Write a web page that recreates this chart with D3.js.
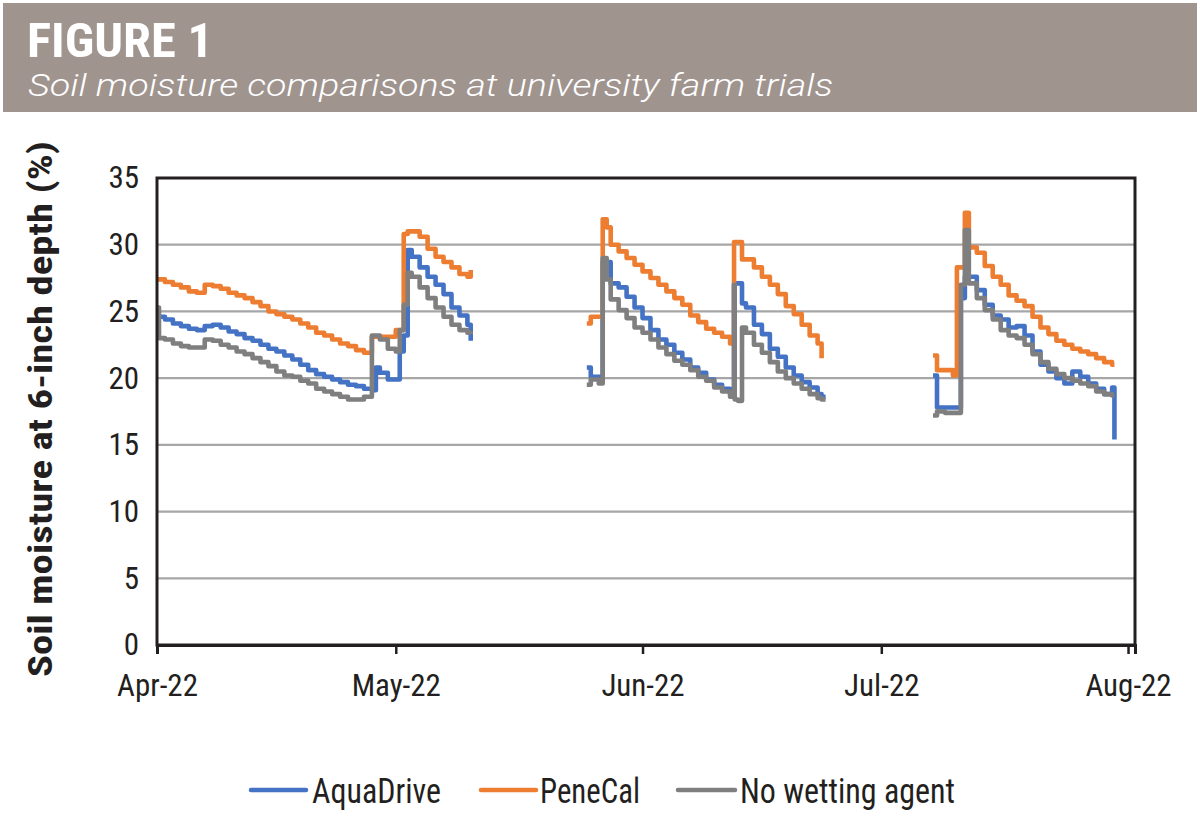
<!DOCTYPE html>
<html>
<head>
<meta charset="utf-8">
<script src="https://cdn.jsdelivr.net/npm/d3@7/dist/d3.min.js"></script>
<style>
  html, body { margin: 0; padding: 0; background: #ffffff; }
  svg { display: block; }
  .cond { font-family: "Liberation Sans Narrow", "Roboto Condensed", "DejaVu Sans Condensed", "Arial Narrow", sans-serif; }
</style>
</head>
<body>
<svg id="chart" width="1200" height="831"></svg>
<script>
// ---------------- DATA ----------------
const titleText = "FIGURE 1";
const subtitleText = "Soil moisture comparisons at university farm trials";
const yAxisTitle = "Soil moisture at 6-inch depth (%)";
const seriesNames = ["AquaDrive", "PeneCal", "No wetting agent"];
const seriesColors = ["#4472C4", "#ED7D31", "#7F7F7F"];
const yTicks = [0, 5, 10, 15, 20, 25, 30, 35];
const xTickDates = ["2022-04-01", "2022-05-01", "2022-06-01", "2022-07-01", "2022-08-01"];

// timestamps (month-day hour) of 2022 readings; null rows mark gaps
const times = [
  "04-01 00","04-01 06","04-02 00","04-03 00","04-04 00","04-05 00","04-06 00","04-07 00","04-08 00","04-09 00",
  "04-10 00","04-11 00","04-12 00","04-13 00","04-14 00","04-15 00","04-16 00","04-17 00","04-18 00","04-19 00",
  "04-20 00","04-21 00","04-22 00","04-23 00","04-24 00","04-25 00","04-26 00","04-27 00","04-28 00","04-28 12",
  "04-29 00","04-30 00","05-01 00","05-01 12","05-02 00","05-02 12","05-03 00","05-04 00","05-05 00","05-06 00",
  "05-07 00","05-08 00","05-09 00","05-10 00","05-10 10","05-11 00",
  "05-25 00","05-25 12","05-26 00","05-26 12","05-27 00","05-27 12","05-28 00","05-29 00","05-30 00","05-31 00",
  "06-01 00","06-02 00","06-03 00","06-04 00","06-05 00","06-06 00","06-07 00","06-08 00","06-09 00","06-10 00",
  "06-11 00","06-12 00","06-12 12","06-12 14","06-13 00","06-13 12","06-14 00","06-15 00","06-16 00","06-17 00",
  "06-18 00","06-19 00","06-20 00","06-21 00","06-22 00","06-23 00","06-23 12","06-24 00","06-25 00",
  "07-07 12","07-08 00","07-09 00","07-10 00","07-10 12","07-11 00","07-11 12","07-12 00","07-13 00","07-14 00",
  "07-15 00","07-16 00","07-17 00","07-18 00","07-19 00","07-20 00","07-21 00","07-22 00","07-23 00","07-24 00",
  "07-25 00","07-26 00","07-27 00","07-28 00","07-29 00","07-30 00","07-30 07"
];

const aquaDrive = [
  24.6,24.6,24.4,24.1,23.9,23.7,23.6,23.9,24.0,23.8,
  23.5,23.3,23.0,22.8,22.5,22.2,22.0,21.7,21.4,21.0,
  20.6,20.3,20.1,19.9,19.7,19.5,19.4,19.2,19.1,20.8,
  20.4,19.9,19.9,22.0,23.2,29.6,29.1,28.3,27.6,27.0,
  26.3,25.3,24.7,24.0,22.8,null,
  20.8,20.1,20.1,20.1,28.7,28.7,27.1,26.8,26.1,25.3,
  24.5,23.6,22.9,22.5,21.9,21.4,20.8,20.4,19.9,19.5,
  19.2,18.8,27.1,27.1,27.1,25.6,25.3,24.0,23.3,22.2,
  21.6,20.8,20.2,19.7,19.3,18.8,18.6,18.6,null,
  20.2,17.8,17.8,17.8,17.8,26.0,27.6,27.6,26.6,25.5,
  24.7,24.4,23.8,23.9,23.2,22.0,21.0,20.5,20.0,19.6,
  20.5,20.1,19.6,19.2,18.8,19.3,15.4
];

const peneCal = [
  27.4,27.4,27.2,27.0,26.8,26.5,26.4,27.0,26.9,26.7,
  26.4,26.2,26.0,25.7,25.4,25.0,24.8,24.6,24.4,24.1,
  23.8,23.4,23.2,22.9,22.6,22.4,22.1,21.9,23.1,23.1,
  23.1,23.1,23.6,23.6,30.8,31.0,31.0,30.6,29.7,29.1,
  28.7,28.3,27.8,27.6,28.1,null,
  24.1,24.6,24.6,24.6,31.9,31.3,30.0,29.5,29.0,28.5,
  28.0,27.5,27.0,26.5,26.0,25.5,24.7,24.2,23.7,23.4,
  23.1,22.6,30.2,30.2,30.2,28.9,28.9,28.3,27.6,27.0,
  26.3,25.4,24.8,24.0,23.2,22.6,21.5,null,null,
  21.7,20.6,20.6,20.2,28.3,28.3,32.4,29.8,29.4,28.4,
  27.6,27.0,26.2,25.8,25.4,24.6,23.8,23.3,22.8,22.5,
  22.2,22.0,21.8,21.5,21.2,21.0,21.0
];

const noWettingAgent = [
  25.3,23.0,22.9,22.6,22.4,22.3,22.3,22.9,22.8,22.5,
  22.3,22.0,21.8,21.5,21.2,20.9,20.5,20.2,20.1,19.8,
  19.6,19.2,19.0,18.8,18.6,18.4,18.4,18.6,23.2,23.2,
  22.9,22.2,22.0,23.6,25.5,27.9,27.6,26.8,26.0,25.3,
  24.6,24.0,23.6,23.4,23.3,null,
  19.5,19.9,19.9,19.6,29.0,27.4,25.9,25.1,24.5,23.8,
  23.4,22.9,22.3,21.8,21.3,21.0,20.6,20.1,19.8,19.3,
  19.0,18.6,27.0,18.4,18.3,23.8,23.4,22.5,21.9,21.2,
  20.5,20.0,19.6,19.2,18.8,18.5,18.4,18.4,null,
  17.2,17.5,17.4,17.4,17.4,27.0,31.1,27.1,26.0,25.1,
  24.4,23.6,23.2,23.0,22.5,21.8,21.2,20.7,20.3,20.0,
  19.8,19.6,19.4,19.0,18.8,18.7,18.7
];

// ---------------- CHART ----------------
const svg = d3.select("#chart");
const parseT = d3.timeParse("%Y-%m-%d %H");
const parseD = d3.timeParse("%Y-%m-%d");
const dates = times.map(t => parseT("2022-" + t));

const plot = { left: 157, right: 1135, top: 178, bottom: 645 };

// header band
svg.append("rect").attr("x", 3).attr("y", 3).attr("width", 1194).attr("height", 109).attr("fill", "#A0948F");
svg.append("text").attr("class", "cond")
  .attr("x", 27).attr("y", 57)
  .attr("font-size", 48).attr("font-weight", "bold").attr("fill", "#ffffff")
  .attr("textLength", 186).attr("lengthAdjust", "spacingAndGlyphs")
  .text(titleText);
svg.append("text")
  .attr("x", 28).attr("y", 96)
  .attr("font-family", "Roboto, 'Open Sans', sans-serif")
  .attr("font-style", "italic").attr("font-weight", 300)
  .attr("font-size", 31).attr("fill", "#ffffff")
  .attr("textLength", 805).attr("lengthAdjust", "spacingAndGlyphs")
  .text(subtitleText);

// scales
const x = d3.scaleTime()
  .domain([parseD("2022-04-01"), new Date(2022, 7, 1, 21)])
  .range([plot.left, plot.right]);
const y = d3.scaleLinear().domain([0, 35]).range([plot.bottom, plot.top]);

// gridlines
svg.append("g")
  .selectAll("line").data(yTicks.filter(v => v > 0)).join("line")
  .attr("x1", plot.left).attr("x2", plot.right)
  .attr("y1", d => y(d)).attr("y2", d => y(d))
  .attr("stroke", "#A6A6A6").attr("stroke-width", 2.2);

// lines
const series = [aquaDrive, peneCal, noWettingAgent];
const line = d3.line()
  .defined(d => d[1] != null)
  .x(d => x(d[0]))
  .y(d => y(d[1]))
  .curve(d3.curveStepAfter);

series.forEach((vals, i) => {
  const pts = dates.map((dt, k) => [dt, vals[k]]);
  svg.append("path")
    .datum(pts)
    .attr("d", line)
    .attr("fill", "none")
    .attr("stroke", seriesColors[i])
    .attr("stroke-width", 4.6)
    .attr("stroke-linejoin", "round");
});

// plot frame
svg.append("rect")
  .attr("x", plot.left).attr("y", plot.top)
  .attr("width", plot.right - plot.left).attr("height", plot.bottom - plot.top)
  .attr("fill", "none").attr("stroke", "#231F20").attr("stroke-width", 3);

// y axis
const yAxis = d3.axisLeft(y).tickValues(yTicks).tickSize(0).tickPadding(18);
const gy = svg.append("g").attr("transform", `translate(${plot.left},0)`).call(yAxis);
gy.select(".domain").remove();
gy.selectAll("text").attr("class", "cond").attr("font-size", 31).attr("fill", "#231F20");

// x axis
const xAxis = d3.axisBottom(x)
  .tickValues(xTickDates.map(parseD))
  .tickFormat(d3.timeFormat("%b-%y"))
  .tickSize(9).tickPadding(20);
const gx = svg.append("g").attr("transform", `translate(0,${plot.bottom})`).call(xAxis);
gx.select(".domain").attr("stroke", "#231F20").attr("stroke-width", 3);
gx.selectAll(".tick line").attr("stroke", "#231F20").attr("stroke-width", 2.5);
gx.selectAll("text").attr("class", "cond").attr("font-size", 31).attr("fill", "#231F20");

// y title
svg.append("text").attr("class", "cond")
  .attr("transform", "translate(52,409) rotate(-90)")
  .attr("text-anchor", "middle")
  .attr("font-size", 34).attr("font-weight", "bold").attr("fill", "#231F20")
  .attr("textLength", 536).attr("lengthAdjust", "spacingAndGlyphs")
  .text(yAxisTitle);

// legend
const legendItems = [
  { sx: 251, ex: 306, tx: 312, tw: 129 },
  { sx: 481, ex: 536, tx: 540, tw: 100 },
  { sx: 678, ex: 735, tx: 740, tw: 215 }
];
const lg = svg.append("g");
legendItems.forEach((it, i) => {
  lg.append("line").attr("x1", it.sx).attr("x2", it.ex).attr("y1", 790).attr("y2", 790)
    .attr("stroke", seriesColors[i]).attr("stroke-width", 4.5).attr("stroke-linecap", "round");
  lg.append("text").attr("class", "cond")
    .attr("x", it.tx).attr("y", 803)
    .attr("font-size", 35).attr("fill", "#231F20")
    .attr("textLength", it.tw).attr("lengthAdjust", "spacingAndGlyphs")
    .text(seriesNames[i]);
});
</script>
</body>
</html>
